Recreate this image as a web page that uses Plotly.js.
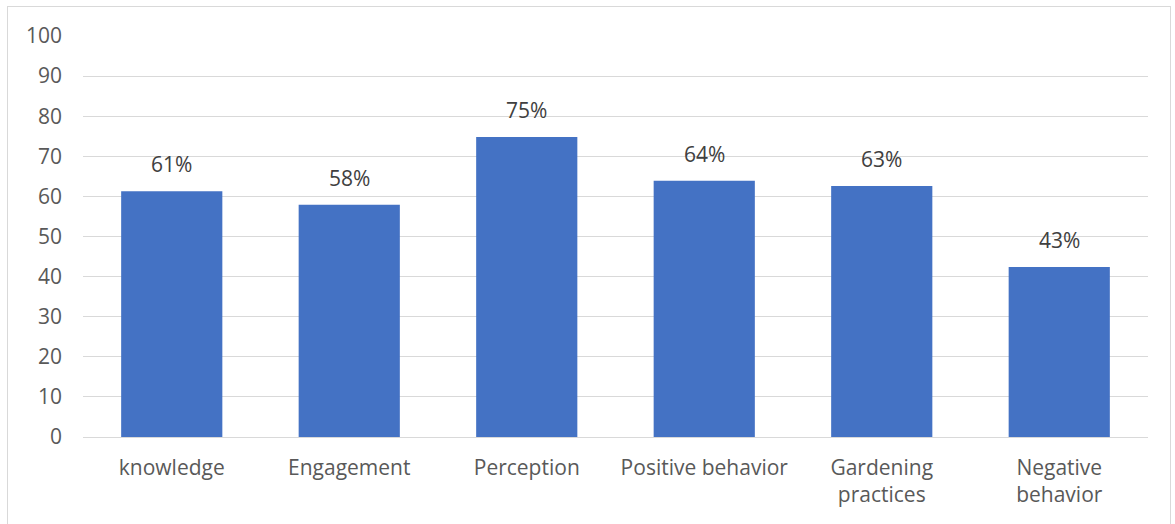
<!DOCTYPE html>
<html>
<head>
<meta charset="utf-8">
<script src="https://cdn.plot.ly/plotly-3.0.1.min.js"></script>
<style>
html,body{margin:0;padding:0;background:#fff;}
#frame{position:absolute;left:7px;top:6px;width:1164px;height:530px;border:1px solid #d9d9d9;box-sizing:border-box;}
#chart{position:absolute;left:0;top:0;width:1175px;height:524px;}
</style>
</head>
<body>
<div id="frame"></div>
<div id="chart"></div>
<script>
var categories = ["knowledge", "Engagement", "Perception", "Positive behavior", "Gardening<br>practices", "Negative<br>behavior"];
var values = [61.3, 57.9, 74.8, 63.9, 62.6, 42.4];
var labels = ["61%", "58%", "75%", "64%", "63%", "43%"];
var yTicks = [0, 10, 20, 30, 40, 50, 60, 70, 80, 90, 100];

var font = "'Open Sans', sans-serif";

var trace = {
  type: "bar",
  x: categories,
  y: values,
  marker: {color: "#4472c4"},
  hoverinfo: "skip"
};

var annotations = categories.map(function(c, i) {
  return {
    x: c, y: values[i], xref: "x", yref: "y",
    text: labels[i], showarrow: false,
    yanchor: "bottom", yshift: 11,
    font: {family: font, size: 21, color: "#404040"}
  };
});

var layout = {
  width: 1175, height: 524,
  margin: {l: 83, r: 27, t: 36, b: 87},
  paper_bgcolor: "rgba(0,0,0,0)",
  plot_bgcolor: "rgba(0,0,0,0)",
  bargap: 0.43,
  showlegend: false,
  xaxis: {
    showgrid: false, zeroline: false, showline: false,
    ticks: "", ticklabelstandoff: 16,
    tickfont: {family: font, size: 21, color: "#595959"}
  },
  yaxis: {
    range: [0, 100], tickvals: yTicks, ticktext: yTicks.map(String),
    showgrid: true, gridcolor: "#d9d9d9", gridwidth: 1,
    zeroline: true, zerolinecolor: "#d9d9d9", zerolinewidth: 1,
    showline: false, ticks: "", ticklabelstandoff: 20,
    tickfont: {family: font, size: 21, color: "#595959"}
  },
  annotations: annotations
};

Plotly.newPlot("chart", [trace], layout, {displayModeBar: false, staticPlot: true});
</script>
</body>
</html>
